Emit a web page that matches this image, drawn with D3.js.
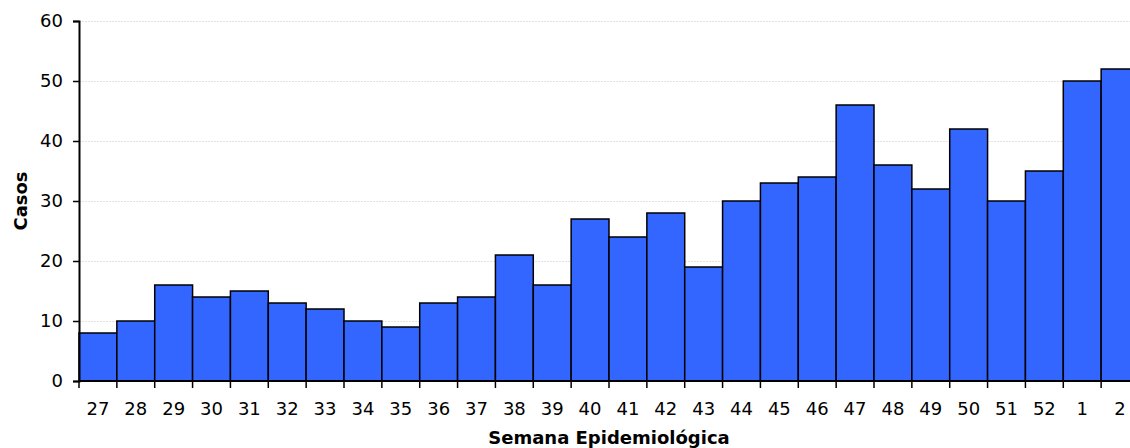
<!DOCTYPE html>
<html>
<head>
<meta charset="utf-8">
<script src="https://cdn.jsdelivr.net/npm/d3@7"></script>
<style>
  html, body { margin: 0; padding: 0; background: #fff; overflow: hidden; }
  svg { display: block; }
</style>
</head>
<body>
<svg id="chart" width="1130" height="448"></svg>
<script>
const weeks = ["27","28","29","30","31","32","33","34","35","36","37","38","39","40","41","42","43","44","45","46","47","48","49","50","51","52","1","2"];
const cases = [8,10,16,14,15,13,12,10,9,13,14,21,16,27,24,28,19,30,33,34,46,36,32,42,30,35,50,52];
const yTicks = [0,10,20,30,40,50,60];
const yTitle = "Casos";
const xTitle = "Semana Epidemiológica";

(function () {
const svg = d3.select("#chart");
const mLeft = 79, mRight = 1139, mTop = 21, mBottom = 381;
const font = "'DejaVu Sans', Verdana, sans-serif";

const x = d3.scaleBand().domain(weeks).range([mLeft, mRight]).padding(0);
const y = d3.scaleLinear().domain([0, 60]).range([mBottom, mTop]);

// gridlines
svg.append("g").selectAll("line").data(yTicks.filter(d => d > 0)).join("line")
  .attr("x1", mLeft).attr("x2", 1130)
  .attr("y1", d => y(d) + 0.5).attr("y2", d => y(d) + 0.5)
  .attr("stroke", "#e2e2e2").attr("stroke-width", 1)
  .attr("stroke-dasharray", "2,1");

// bars
svg.append("g").selectAll("rect").data(weeks).join("rect")
  .attr("x", d => x(d))
  .attr("y", (d, i) => y(cases[i]))
  .attr("width", x.bandwidth())
  .attr("height", (d, i) => y(0) - y(cases[i]))
  .attr("fill", "#3366FF")
  .attr("stroke", "#000")
  .attr("stroke-width", 1.5);

// y axis
const yAxis = svg.append("g").attr("transform", `translate(${mLeft},0)`)
  .call(d3.axisLeft(y).tickValues(yTicks).tickSize(6).tickPadding(10));
yAxis.select(".domain").attr("stroke", "#000").attr("stroke-width", 2);
yAxis.selectAll(".tick line").attr("stroke", "#000").attr("stroke-width", 1.5);
yAxis.selectAll("text").attr("font-family", font).attr("font-size", 18).attr("fill", "#000");

// x axis: ticks at band boundaries
const xAxisG = svg.append("g");
xAxisG.append("line").attr("x1", mLeft).attr("x2", mRight).attr("y1", mBottom).attr("y2", mBottom)
  .attr("stroke", "#000").attr("stroke-width", 2);
xAxisG.selectAll("line.tk").data(weeks).join("line").attr("class", "tk")
  .attr("x1", d => x(d)).attr("x2", d => x(d))
  .attr("y1", mBottom).attr("y2", mBottom + 7)
  .attr("stroke", "#000").attr("stroke-width", 1.5);
xAxisG.selectAll("text").data(weeks).join("text")
  .attr("x", d => x(d) + x.bandwidth() / 2)
  .attr("y", 415)
  .attr("text-anchor", "middle")
  .attr("font-family", font).attr("font-size", 18).attr("fill", "#000")
  .text(d => d);

// titles
svg.append("text")
  .attr("transform", `translate(27,${(mTop + mBottom) / 2}) rotate(-90)`)
  .attr("text-anchor", "middle")
  .attr("font-family", font).attr("font-size", 18).attr("font-weight", "bold")
  .text(yTitle);
svg.append("text")
  .attr("x", (mLeft + mRight) / 2).attr("y", 443.5)
  .attr("text-anchor", "middle")
  .attr("font-family", font).attr("font-size", 18).attr("font-weight", "bold")
  .text(xTitle);
})();
</script>
</body>
</html>
